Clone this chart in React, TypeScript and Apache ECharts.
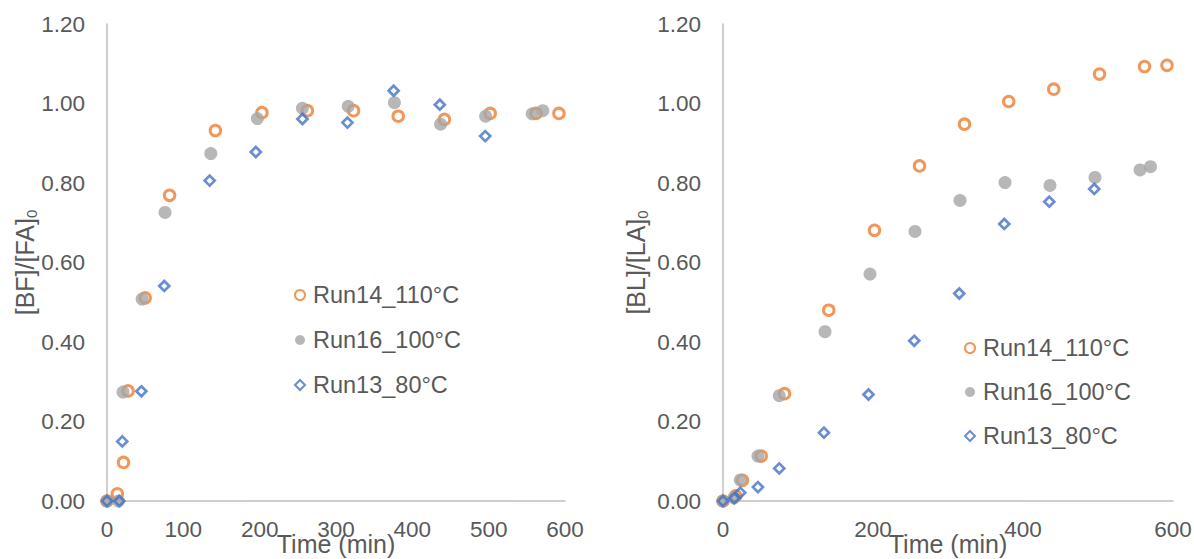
import React, { useEffect, useRef } from "react";
import * as echarts from "echarts";

// ---- Data ----
const seriesNames = ["Run14_110°C", "Run16_100°C", "Run13_80°C"];

// Left panel: [BF]/[FA]0
const run14TimeBF = [0, 13.5, 21.6, 27.6, 50, 82, 142, 203, 262.5, 323, 381.5, 442, 502, 562, 592];
const run14BF = [0, 0.018, 0.097, 0.277, 0.511, 0.769, 0.932, 0.977, 0.982, 0.982, 0.968, 0.96, 0.975, 0.975, 0.975];
const run16TimeBF = [0, 15, 21, 46, 76, 136, 197, 256, 316, 376.5, 437, 496, 557, 571];
const run16BF = [0, 0, 0.274, 0.508, 0.726, 0.874, 0.962, 0.988, 0.993, 1.002, 0.948, 0.968, 0.974, 0.982];
const run13TimeBF = [0, 16, 20, 45, 75, 134.5, 195, 256, 315, 375.5, 436, 495.5];
const run13BF = [0, 0, 0.15, 0.276, 0.541, 0.806, 0.878, 0.961, 0.952, 1.032, 0.997, 0.918];

// Right panel: [BL]/[LA]0
const run14TimeBL = [0, 17, 26, 51, 82, 141, 202, 262, 322, 381, 441, 502, 562, 592];
const run14BL = [0, 0.013, 0.052, 0.113, 0.27, 0.48, 0.681, 0.843, 0.948, 1.005, 1.036, 1.074, 1.093, 1.096];
const run16TimeBL = [0, 14.5, 23, 46.6, 75, 136, 196, 256, 316, 376, 436, 496, 556, 570];
const run16BL = [0, 0.008, 0.053, 0.113, 0.265, 0.426, 0.571, 0.678, 0.756, 0.801, 0.794, 0.814, 0.833, 0.841];
const run13TimeBL = [0, 15, 23, 46.6, 75, 134.6, 194, 255, 315, 375, 435, 495];
const run13BL = [0, 0.007, 0.021, 0.035, 0.082, 0.172, 0.268, 0.403, 0.522, 0.697, 0.753, 0.785];

const xTitle = "Time (min)";
const yTitleLeft = ["[BF]/[FA]", "0"];
const yTitleRight = ["[BL]/[LA]", "0"];

const FONT = "'Liberation Sans', Arial, sans-serif";
const TEXT = "#595959";
const AXIS = "#BFBFBF";
const ORANGE = "#ED7D31";
const GRAY = "#A5A5A5";
const BLUE = "#4472C4";

const zip = (xs: number[], ys: number[]) => xs.map((x, i) => [x, ys[i]]);

function makeSeries(idx: number, times: number[][], values: number[][]) {
  const styles = [
    { symbol: "circle", symbolSize: 10.5, itemStyle: { color: "rgba(255,255,255,0)", borderColor: ORANGE, borderWidth: 3 } },
    { symbol: "circle", symbolSize: 13, itemStyle: { color: GRAY, borderWidth: 0 } },
    { symbol: "diamond", symbolSize: 10, itemStyle: { color: "rgba(255,255,255,0)", borderColor: BLUE, borderWidth: 2.7 } },
  ];
  return seriesNames.map((name, i) => ({
    type: "scatter",
    name,
    xAxisIndex: idx,
    yAxisIndex: idx,
    data: zip(times[i], values[i]),
    clip: false,
    ...styles[i],
  }));
}

export default function App() {
  const ref = useRef<HTMLDivElement>(null);
  useEffect(() => {
    document.body.style.margin = "0";
    if (!ref.current) return;
    const chart = echarts.init(ref.current, undefined, { renderer: "svg" });

    const yAxisBase = (titleParts: string[], nameGap: number) => ({
      type: "value",
      min: 0,
      max: 1.2,
      interval: 0.2,
      name: `{a|${titleParts[0]}}{b|${titleParts[1]}}`,
      nameLocation: "middle",
      nameRotate: 90,
      nameGap,
      nameMoveOverlap: false,
      nameTextStyle: {
        color: TEXT,
        fontFamily: FONT,
        rich: {
          a: { fontSize: 25, lineHeight: 28, color: TEXT, fontFamily: FONT },
          b: { fontSize: 15, lineHeight: 15, verticalAlign: "bottom", color: TEXT, fontFamily: FONT },
        },
      },
      axisLine: { show: true, lineStyle: { color: AXIS, width: 1.5 } },
      axisTick: { show: false },
      splitLine: { show: false },
      axisLabel: {
        color: TEXT,
        fontSize: 22.5,
        fontFamily: FONT,
        margin: 22,
        formatter: (v: number) => v.toFixed(2),
      },
    });

    const xAxisBase = (interval: number) => ({
      type: "value",
      min: 0,
      max: 600,
      interval,
      name: xTitle,
      nameLocation: "middle",
      nameGap: 30,
      nameMoveOverlap: false,
      nameTextStyle: { color: TEXT, fontSize: 25, fontFamily: FONT },
      axisLine: { show: true, onZero: true, lineStyle: { color: AXIS, width: 1.5 } },
      axisTick: { show: false },
      splitLine: { show: false },
      axisLabel: { color: TEXT, fontSize: 22.5, fontFamily: FONT, margin: 17 },
    });

    const legendBase = (left: number, top: number, gap: number) => ({
      orient: "vertical",
      left,
      top,
      padding: 0,
      itemGap: gap,
      itemWidth: 10,
      itemHeight: 10,
      selectedMode: false,
      data: seriesNames,
      textStyle: { color: TEXT, fontSize: 23.5, lineHeight: 24, fontFamily: FONT, padding: [0, 0, 0, 3] },
    });

    chart.setOption({
      animation: false,
      backgroundColor: "#ffffff",
      grid: [
        { left: 107, top: 24, width: 458, height: 477, outerBoundsMode: "none", containLabel: false },
        { left: 723, top: 24, width: 450, height: 477, outerBoundsMode: "none", containLabel: false },
      ],
      xAxis: [
        { ...xAxisBase(100), gridIndex: 0 },
        { ...xAxisBase(200), gridIndex: 1 },
      ],
      yAxis: [
        { ...yAxisBase(yTitleLeft, 68), gridIndex: 0 },
        { ...yAxisBase(yTitleRight, 73), gridIndex: 1 },
      ],
      legend: [
        { ...legendBase(294, 283, 21) },
        { ...legendBase(964, 336, 20) },
      ],
      series: [
        ...makeSeries(0, [run14TimeBF, run16TimeBF, run13TimeBF], [run14BF, run16BF, run13BF]),
        ...makeSeries(1, [run14TimeBL, run16TimeBL, run13TimeBL], [run14BL, run16BL, run13BL]),
      ],
    } as any);

    return () => chart.dispose();
  }, []);

  return (
    <div
      ref={ref}
      style={{ position: "absolute", left: 0, top: 0, width: 1194, height: 559, background: "#fff" }}
    />
  );
}
